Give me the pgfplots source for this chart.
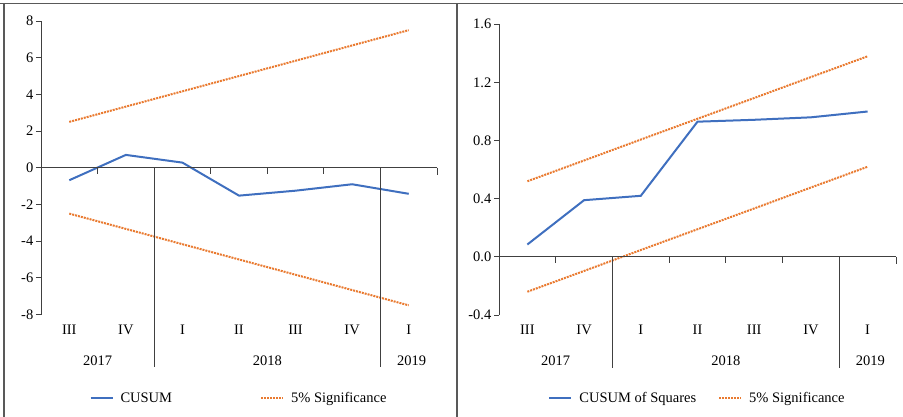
\documentclass[border=0pt]{standalone}
\usepackage{pgfplots}
\pgfplotsset{compat=1.18}
\usepackage{fontspec}
\setmainfont{Liberation Serif}
\definecolor{cblue}{HTML}{3F6FBF}
\definecolor{corange}{HTML}{E97A30}
\definecolor{axgray}{HTML}{404040}
\definecolor{framegray}{HTML}{595959}
\newcommand{\lblfont}{\fontsize{14.5bp}{16bp}\selectfont}
\tikzset{catsep/.style={axgray, line width=0.8bp}}
\pgfplotsset{
  myaxis/.style={
    scale only axis,
    anchor=south west,
    clip=false,
    xmin=0.5, xmax=7.5,
    axis x line=none,
    axis y line=left,
    y axis line style={-, axgray, line width=0.8bp},
    xtick=\empty,
    tick align=outside,
    major tick length=5bp,
    ytick style={axgray, line width=0.8bp},
    /pgf/number format/assume math mode=true,
    yticklabel style={font=\lblfont, inner sep=2.5bp},
    legend columns=2,
    legend style={draw=none, fill=none, font=\lblfont, anchor=center,
      /tikz/every odd column/.append style={column sep=5bp}},
    legend image code/.code={\draw[##1] (0bp,0bp) -- (22bp,0bp);},
  },
  cusum/.style={cblue, line width=2bp, no marks},
  sig/.style={corange, line width=2bp, no marks, dash pattern=on 2bp off 1bp},
}
\begin{document}
\begin{tikzpicture}
\useasboundingbox (0bp,0bp) rectangle (903bp,417bp);
% frame
\draw[framegray, line width=1.6bp] (0bp,413.5bp) -- (903bp,413.5bp);
\draw[framegray, line width=1.6bp] (4bp,0bp) -- (4bp,413.5bp);
\draw[framegray, line width=1.6bp] (457bp,0bp) -- (457bp,413.5bp);

% ---------------- left panel: CUSUM ----------------
\begin{axis}[myaxis,
  at={(41bp,102.5bp)}, width=396bp, height=293.5bp,
  ymin=-8, ymax=8, ytick={-8,-6,-4,-2,0,2,4,6,8},
  legend style={at={(0.5,-0.2845)}, /tikz/every even column/.append style={column sep=86bp}},
]
\addplot[cusum] coordinates {(1,-0.68) (2,0.70) (3,0.28) (4,-1.52) (5,-1.25) (6,-0.90) (7,-1.42)};
\addlegendentry{CUSUM}
\addplot[sig] coordinates {(1,2.5) (2,3.333) (3,4.167) (4,5.0) (5,5.833) (6,6.667) (7,7.5)};
\addlegendentry{5\% Significance}
\addplot[sig, forget plot] coordinates {(1,-2.5) (2,-3.333) (3,-4.167) (4,-5.0) (5,-5.833) (6,-6.667) (7,-7.5)};
% category axis
\draw[catsep] (axis cs:0.5,0) -- (axis cs:7.5,0);
\draw[catsep] (axis cs:1.5,0) -- ++(0bp,-6bp);
\draw[catsep] (axis cs:3.5,0) -- ++(0bp,-6bp);
\draw[catsep] (axis cs:4.5,0) -- ++(0bp,-6bp);
\draw[catsep] (axis cs:5.5,0) -- ++(0bp,-6bp);
\draw[catsep] (axis cs:7.5,0) -- ++(0bp,-7bp);
\draw[catsep] (axis cs:2.5,0) -- ([yshift=-52.5bp]axis cs:2.5,-8);
\draw[catsep] (axis cs:6.5,0) -- ([yshift=-52.5bp]axis cs:6.5,-8);
\node[font=\lblfont] at ([yshift=-15.5bp]axis cs:1,-8) {III};
\node[font=\lblfont] at ([yshift=-15.5bp]axis cs:2,-8) {IV};
\node[font=\lblfont] at ([yshift=-15.5bp]axis cs:3,-8) {I};
\node[font=\lblfont] at ([yshift=-15.5bp]axis cs:4,-8) {II};
\node[font=\lblfont] at ([yshift=-15.5bp]axis cs:5,-8) {III};
\node[font=\lblfont] at ([yshift=-15.5bp]axis cs:6,-8) {IV};
\node[font=\lblfont] at ([yshift=-15.5bp]axis cs:7,-8) {I};
\node[font=\lblfont] at ([yshift=-46.5bp]axis cs:1.5,-8) {2017};
\node[font=\lblfont] at ([yshift=-46.5bp]axis cs:4.5,-8) {2018};
\node[font=\lblfont] at ([yshift=-46.5bp]axis cs:7.05,-8) {2019};
\end{axis}

% ---------------- right panel: CUSUM of Squares ----------------
\begin{axis}[myaxis,
  at={(499bp,102bp)}, width=397bp, height=290.7bp,
  ymin=-0.4, ymax=1.6, ytick={-0.4,0,0.4,0.8,1.2,1.6},
  yticklabel style={/pgf/number format/.cd, fixed, fixed zerofill, precision=1},
  legend style={at={(0.5,-0.2855)}, /tikz/every even column/.append style={column sep=20bp}},
]
\addplot[cusum] coordinates {(1,0.085) (2,0.39) (3,0.42) (4,0.93) (5,0.943) (6,0.96) (7,1.0)};
\addlegendentry{CUSUM of Squares}
\addplot[sig] coordinates {(1,0.52) (2,0.663) (3,0.807) (4,0.95) (5,1.093) (6,1.237) (7,1.38)};
\addlegendentry{5\% Significance}
\addplot[sig, forget plot] coordinates {(1,-0.24) (2,-0.097) (3,0.047) (4,0.19) (5,0.333) (6,0.477) (7,0.62)};
% category axis
\draw[catsep] (axis cs:0.5,0) -- (axis cs:7.5,0);
\draw[catsep] (axis cs:1.5,0) -- ++(0bp,-6bp);
\draw[catsep] (axis cs:3.5,0) -- ++(0bp,-6bp);
\draw[catsep] (axis cs:4.5,0) -- ++(0bp,-6bp);
\draw[catsep] (axis cs:5.5,0) -- ++(0bp,-6bp);
\draw[catsep] (axis cs:7.5,0) -- ++(0bp,-7bp);
\draw[catsep] (axis cs:2.5,0) -- ([yshift=-53bp]axis cs:2.5,-0.4);
\draw[catsep] (axis cs:6.5,0) -- ([yshift=-53bp]axis cs:6.5,-0.4);
\node[font=\lblfont] at ([yshift=-15bp]axis cs:1,-0.4) {III};
\node[font=\lblfont] at ([yshift=-15bp]axis cs:2,-0.4) {IV};
\node[font=\lblfont] at ([yshift=-15bp]axis cs:3,-0.4) {I};
\node[font=\lblfont] at ([yshift=-15bp]axis cs:4,-0.4) {II};
\node[font=\lblfont] at ([yshift=-15bp]axis cs:5,-0.4) {III};
\node[font=\lblfont] at ([yshift=-15bp]axis cs:6,-0.4) {IV};
\node[font=\lblfont] at ([yshift=-15bp]axis cs:7,-0.4) {I};
\node[font=\lblfont] at ([yshift=-46bp]axis cs:1.5,-0.4) {2017};
\node[font=\lblfont] at ([yshift=-46bp]axis cs:4.5,-0.4) {2018};
\node[font=\lblfont] at ([yshift=-46bp]axis cs:7.05,-0.4) {2019};
\end{axis}
\end{tikzpicture}
\end{document}
